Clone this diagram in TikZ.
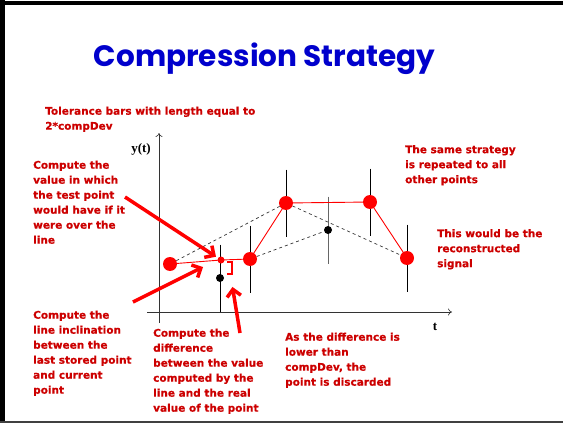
\documentclass[tikz,border=0pt]{standalone}
\usepackage{fontspec}
\setmainfont{DejaVu Sans}
\newfontfamily\notefont[FakeBold=0.6]{DejaVu Sans Bold}
\newfontfamily\titlefont{Poppins}
\newfontfamily\axisfont{Liberation Serif}
\usetikzlibrary{arrows.meta,backgrounds}
\definecolor{slideblue}{HTML}{0000CC}
\definecolor{notered}{HTML}{CC0000}
\definecolor{ptred}{HTML}{FF0000}

\begin{document}
\begin{tikzpicture}[
    x=1pt, y=-1pt,
    every node/.style={inner sep=0pt},
    note/.style={anchor=north west, align=left, text=notered,
                 font=\notefont\fontsize{10.5}{15}\selectfont},
    stored/.style={circle, fill=ptred, minimum size=14pt},
    probe/.style={circle, fill=ptred, minimum size=7pt},
    real/.style={circle, fill=black, minimum size=8pt},
    tolbar/.style={line width=1pt, color=black},
    guide/.style={dashed, line width=0.7pt, color=black!80},
    recon/.style={line width=0.9pt, color=ptred},
    callout/.style={-{Straight Barb[length=7pt, width=14pt]}, line width=3.5pt, color=ptred},
    axis/.style={-{To[length=4pt, width=7pt]}, line width=0.6pt, color=black!80},
    axlabel/.style={font=\axisfont\bfseries\fontsize{13}{15}\selectfont}
]
\useasboundingbox (0,0) rectangle (563,423);

% --- slide frame ---
\fill[black] (0,0.5) rectangle (563,4.5);
\fill[black] (0,0) rectangle (5,423);
\fill[black!75] (0,420.5) rectangle (563,423);

\node[font=\titlefont\fontsize{29.5}{31}\selectfont\bfseries, text=slideblue, anchor=base]
     (title) at (264.5,66) {Compression Strategy};

% --- axes ---
\coordinate (ybot) at (159,323);
\coordinate (ytop) at (159,133);
\coordinate (xleft) at (147,312);
\coordinate (xright) at (452,312);
\draw[axis] (ybot) -- (ytop);
\draw[axis] (xleft) -- (xright);
\node[axlabel] (ylab) at (141,149) {y(t)};
\node[axlabel] (tlab) at (435,327) {t};

% --- samples ---
\node[stored] (p1) at (170,264) {};
\node[probe]  (tp) at (221,260) {};
\node[real]   (b1) at (220,278) {};
\node[stored] (p2) at (250,259) {};
\node[stored] (p3) at (286,203) {};
\node[real]   (b2) at (328,230) {};
\node[stored] (p4) at (370,202) {};
\node[stored] (p5) at (407,258) {};

\begin{scope}[on background layer]
  % tolerance bars
  \foreach \pt in {b1,p2,p3,p4,p5}
    \draw[tolbar] ([yshift=33.5pt]\pt.center) -- ([yshift=-33.5pt]\pt.center);
  \draw[tolbar, black!60] ([yshift=33.5pt]b2.center) -- ([yshift=-33.5pt]b2.center);
  % slope lines
  \draw[guide] (p1) -- (p3);
  \draw[guide] (p2) -- (b2);
  \draw[guide] (p3) -- (p5);
  % reconstructed signal
  \draw[recon] (p1.center) -- (tp.center) -- (p2.center) -- (p3.center)
               -- (p4.center) -- (p5.center);
\end{scope}

% difference mark
\draw[ptred, line width=1.8pt] (227,262) -- (232,262) -- (232,274) -- (227,274);

% --- notes ---
\node[note] (tolnote) at (45,106.5) {Tolerance bars with length equal to\\2*compDev};
\node[note] (valnote) at (33,160.5) {Compute the\\value in which\\the test point\\would have if it\\were over the\\line};
\node[note] (slopenote) at (33,310.5) {Compute the\\line inclination\\between the\\last stored point\\and current\\point};
\node[note] (diffnote) at (153,328.5) {Compute the\\difference\\between the value\\computed by the\\line and the real\\value of the point};
\node[note] (dropnote) at (285,332.5) {As the difference is\\lower than\\compDev, the\\point is discarded};
\node[note] (samenote) at (405,145) {The same strategy\\is repeated to all\\other points};
\node[note] (reconnote) at (437,229) {This would be the\\reconstructed\\signal};

% --- callout arrows ---
\coordinate (valtail) at (125,197);
\coordinate (slopetail) at (133,302);
\coordinate (slopetip) at (203,267);
\coordinate (difftail) at (240,333);
\draw[callout, shorten >=6pt] (valtail) -- (tp.center);
\draw[callout] (slopetail) -- (slopetip);
\draw[callout, shorten >=3pt] (difftail) -- (232,284);

\end{tikzpicture}
\end{document}
